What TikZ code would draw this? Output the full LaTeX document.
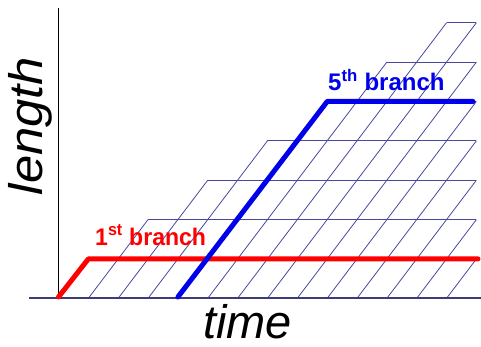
\documentclass[tikz,border=0pt]{standalone}
\usepackage{fontspec}
\setmainfont{Liberation Sans}
\definecolor{gridc}{RGB}{72,72,160}
\definecolor{basec}{RGB}{60,60,120}
\definecolor{branchblue}{RGB}{0,0,235}
\definecolor{branchred}{RGB}{255,0,0}
\begin{document}
\begin{tikzpicture}[x=1pt,y=-1pt,
  gridline/.style={gridc,line width=0.8pt},
  branchline/.style={line width=5pt,line cap=round,line join=round},
  branchlabel/.style={anchor=base west,inner sep=0pt,font=\bfseries\fontsize{24}{24}\selectfont},
  axislabel/.style={inner sep=0pt,font=\itshape\fontsize{47}{47}\selectfont}]
\useasboundingbox (0,0) rectangle (481,347);
\def\xz{58.5}\def\dx{29.85}\def\yb{298.3}\def\hh{39.37}
% grid
\foreach \k in {1,...,7}{
  \pgfmathsetmacro\ylo{\yb-(\k-1)*\hh}
  \pgfmathsetmacro\yhi{\yb-\k*\hh}
  \pgfmathtruncatemacro\jstart{2*(\k-1)}
  \foreach \j in {\jstart,...,13}{
    \draw[gridline] ({\xz+\j*\dx},\ylo) -- ({\xz+(\j+1)*\dx},\yhi);
  }
  \draw[gridline] ({\xz+(2*\k-1)*\dx},\yhi) -- ({\xz+14*\dx},\yhi);
}
% axes
\coordinate (ytop) at (58.5,8);
\coordinate (origin) at (58.5,298.3);
\coordinate (xleft) at (29,298.3);
\coordinate (xright) at (481,298.3);
\draw[black,line width=1.2pt] (ytop) -- (origin);
\draw[basec,line width=2.2pt] (xleft) -- (xright);
% branches
\coordinate (r0) at (58.5,297);
\coordinate (r1) at (88.35,258.9);
\coordinate (r2) at (478,258.9);
\draw[branchline,branchred] (r0) -- (r1) -- (r2);
\coordinate (b0) at (177.9,297);
\coordinate (b1) at (327.2,101.5);
\coordinate (b2) at (473,101.5);
\draw[branchline,branchblue] (b0) -- (b1) -- (b2);
% labels
\node[branchlabel,text=branchred,xscale=0.96] (lab1) at (95,245) {1\textsuperscript{st} branch};
\node[branchlabel,text=branchblue] (lab5) at (328,91) {5\textsuperscript{th} branch};
\node[axislabel,anchor=base] (time) at (247.5,338) {time};
\node[axislabel,anchor=base,rotate=90,xscale=1.08] (length) at (42,126) {length};
\end{tikzpicture}
\end{document}
